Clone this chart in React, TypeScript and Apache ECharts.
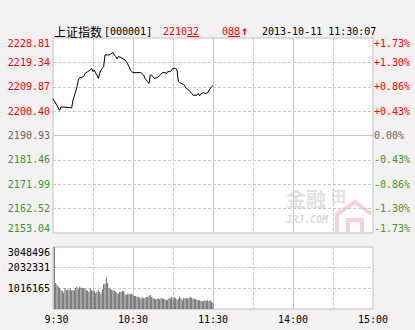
import React, { useEffect, useRef } from 'react';
import * as echarts from 'echarts';

const BASE = 2190.93;
const STEP = 9.47125;
const leftLabels = ['2153.04', '2162.52', '2171.99', '2181.46', '2190.93', '2200.40', '2209.87', '2219.34', '2228.81'];
const rightLabels = ['-1.73%', '-1.30%', '-0.86%', '-0.43%', '0.00%', '+0.43%', '+0.86%', '+1.30%', '+1.73%'];
const timeLabels = ['9:30', '', '10:30', '', '11:30', '', '14:00', '', '15:00'];
const volLabels = ['', '1016165', '2032331', '3048496'];
const VOL_MAX = 3048496;

const priceMinutes = [0, 5, 6, 13, 14, 15, 18, 19, 20, 23, 24, 26, 28, 29, 30, 31, 32, 33, 34, 35, 36, 38, 39, 42, 43, 45, 46, 47, 48, 49, 51, 54, 55, 57, 58, 60, 66, 68, 69, 71, 72, 73, 74, 75, 76, 78, 80, 82, 84, 85, 86, 88, 89, 90, 92, 93, 94, 95, 98, 99, 100, 102, 104, 105, 108, 109, 110, 111, 113, 114, 116, 117, 119, 120];
const prices = [2205.29, 2200.71, 2202.04, 2201.77, 2201.65, 2204.63, 2209.87, 2212.45, 2213.39, 2213.78, 2215.07, 2215.74, 2216.37, 2217.03, 2215.74, 2216.37, 2215.07, 2214.41, 2213.12, 2215.07, 2216.37, 2217.7, 2222.24, 2222.24, 2222.51, 2223.17, 2222.24, 2221.61, 2220.67, 2221.61, 2221.22, 2220.28, 2219.65, 2217.7, 2216.37, 2215.35, 2215.35, 2214.41, 2213.12, 2211.83, 2211.16, 2214.41, 2214.41, 2213.78, 2213.12, 2213.39, 2214.17, 2215.35, 2215.35, 2215.07, 2215.74, 2215.74, 2216.37, 2217.03, 2217.03, 2216.37, 2212.06, 2211.44, 2210.77, 2210.1, 2209.2, 2208.54, 2207.25, 2206.58, 2206.58, 2207.25, 2206.35, 2207.25, 2207.52, 2207.25, 2207.52, 2208.54, 2209.87, 2210.32];

// volume per minute, 9:31 .. 11:30
const volumes = [
  3048496, 1262000, 1180000, 1098000, 1016000, 918000, 885000, 803000, 1016000, 918000,
  967000, 918000, 1016000, 918000, 918000, 918000, 1049000, 1098000, 967000, 1082000,
  1049000, 1049000, 1016000, 1016000, 934000, 885000, 836000, 1016000, 918000, 918000,
  885000, 770000, 852000, 934000, 836000, 754000, 967000, 1213000, 1246000, 1541000,
  1295000, 1016000, 1000000, 934000, 918000, 885000, 852000, 787000, 754000, 836000,
  852000, 885000, 885000, 754000, 688000, 754000, 754000, 721000, 754000, 688000,
  639000, 639000, 606000, 606000, 557000, 508000, 590000, 524000, 557000, 590000,
  590000, 639000, 688000, 590000, 524000, 508000, 475000, 508000, 524000, 475000,
  524000, 524000, 492000, 475000, 426000, 459000, 524000, 524000, 590000, 475000,
  590000, 524000, 459000, 508000, 606000, 524000, 443000, 541000, 524000, 524000,
  524000, 524000, 606000, 557000, 508000, 508000, 475000, 459000, 426000, 426000,
  393000, 377000, 393000, 426000, 393000, 426000, 393000, 426000, 361000, 295000,
];

const MONO = '"DejaVu Sans Mono", "Liberation Mono", monospace';
const CJK = '"Noto Sans CJK SC", sans-serif';
const GRID_C = '#c8c8c8';
const RED = '#ff0000';
const GREEN = '#339933';
const GREY = '#666666';

const signColor = (v: any) => {
  const n = Number(v);
  return n > 0.001 ? RED : n < -0.001 ? GREEN : GREY;
};

export default function App() {
  const ref = useRef<HTMLDivElement>(null);
  useEffect(() => {
    if (!ref.current) return;
    const chart = echarts.init(ref.current, undefined, { renderer: 'svg' });
    const dashed = { show: true, lineStyle: { color: GRID_C, type: [3, 2] as any, width: 1 }, showMinLine: false, showMaxLine: false };
    const solidMark = (items: any[]) => ({
      silent: true,
      symbol: 'none',
      label: { show: false },
      animation: false,
      lineStyle: { color: GRID_C, type: 'solid', width: 1 },
      data: items,
    });
    const text = (x: number, y: number, t: string, fill: string, font: string, extra: any = {}) => ({
      type: 'text',
      x,
      y,
      silent: true,
      style: { text: t, fill, font, textAlign: 'left', textVerticalAlign: 'middle', align: 'left', verticalAlign: 'middle', ...extra },
    });
    chart.setOption({
      animation: false,
      backgroundColor: '#f3f1f1',
      grid: [
        { left: 53, top: 38, width: 320, height: 195, show: true, backgroundColor: '#ffffff', borderColor: '#c0c0c0', borderWidth: 1 },
        { left: 53, top: 247, width: 320, height: 62, show: true, backgroundColor: '#ffffff', borderColor: '#c0c0c0', borderWidth: 1 },
      ],
      xAxis: [
        {
          gridIndex: 0, type: 'value', min: 0, max: 240, interval: 30,
          axisLine: { show: false }, axisTick: { show: false }, axisLabel: { show: false },
          splitLine: dashed,
        },
        {
          gridIndex: 1, type: 'value', min: 0, max: 240, interval: 30,
          axisLine: { show: false }, axisTick: { show: false },
          splitLine: dashed,
          axisLabel: {
            show: true, margin: 5, fontFamily: MONO, fontSize: 10, color: '#000',
            showMinLabel: true, showMaxLabel: true,
            formatter: (v: number) => {
              const i = Math.round(v / 30);
              const t = timeLabels[i] || '';
              if (!t) return '';
              return i === 0 ? '{f|' + t + '}' : t;
            },
            rich: { f: { fontFamily: MONO, fontSize: 10, color: '#000', padding: [0, 0, 0, 7] } },
          },
        },
      ],
      yAxis: [
        {
          gridIndex: 0, type: 'value', position: 'left', min: -4, max: 4, interval: 1,
          axisLine: { show: false }, axisTick: { show: false },
          splitLine: dashed,
          axisLabel: {
            margin: 3, fontFamily: MONO, fontSize: 10,
            color: (v: any) => signColor(v),
            formatter: (v: number) => leftLabels[Math.round(v) + 4],
            verticalAlignMaxLabel: 'top', verticalAlignMinLabel: 'bottom',
          },
        },
        {
          gridIndex: 0, type: 'value', position: 'right', min: -4, max: 4, interval: 1,
          axisLine: { show: false }, axisTick: { show: false }, splitLine: { show: false },
          axisLabel: {
            margin: 1, fontFamily: MONO, fontSize: 10,
            color: (v: any) => signColor(v),
            formatter: (v: number) => rightLabels[Math.round(v) + 4],
            verticalAlignMaxLabel: 'top', verticalAlignMinLabel: 'bottom',
          },
        },
        {
          gridIndex: 1, type: 'value', position: 'left', min: 0, max: VOL_MAX, interval: VOL_MAX / 3,
          axisLine: { show: false }, axisTick: { show: false },
          splitLine: dashed,
          axisLabel: {
            margin: 3, fontFamily: MONO, fontSize: 10, color: '#000',
            formatter: (v: number) => volLabels[Math.round(v / (VOL_MAX / 3))] || '',
            verticalAlignMaxLabel: 'top',
          },
        },
      ],
      series: [
        {
          type: 'line', xAxisIndex: 0, yAxisIndex: 0, data: [[0, 0]], showSymbol: false, symbol: 'none',
          lineStyle: { opacity: 0 }, z: 1, silent: true,
          markLine: solidMark([{ xAxis: 60 }, { xAxis: 120 }, { xAxis: 180 }, { yAxis: 0 }]),
        },
        {
          type: 'line', xAxisIndex: 1, yAxisIndex: 2, data: [[0, 0]], showSymbol: false, symbol: 'none',
          lineStyle: { opacity: 0 }, z: 1, silent: true,
          markLine: solidMark([{ xAxis: 60 }, { xAxis: 120 }, { xAxis: 180 }]),
        },
        {
          type: 'line', xAxisIndex: 0, yAxisIndex: 0, z: 5,
          data: priceMinutes.map((m, i) => [m, (prices[i] - BASE) / STEP]),
          symbol: 'none', showSymbol: false,
          lineStyle: { color: '#000000', width: 1 },
        },
        {
          type: 'bar', xAxisIndex: 1, yAxisIndex: 2, z: 5,
          data: volumes.map((v, i) => [i + 1, v]),
          barWidth: 1,
          itemStyle: { color: '#666666' },
        },
      ],
      graphic: [
        text(54, 31, '上证指数', '#000', '12px ' + CJK),
        text(104, 31, '[000001]', '#000', '10px ' + MONO),
        text(163, 31, '2210', RED, '10px ' + MONO),
        text(187, 31, '32', RED, '10px ' + MONO),
        { type: 'line', silent: true, shape: { x1: 187, y1: 36.5, x2: 199, y2: 36.5 }, style: { stroke: RED, lineWidth: 1 } },
        text(222, 31, '0', RED, '10px ' + MONO),
        text(228, 31, '88', RED, '10px ' + MONO),
        { type: 'line', silent: true, shape: { x1: 228, y1: 36.5, x2: 240, y2: 36.5 }, style: { stroke: RED, lineWidth: 1 } },
        text(241, 31, '↑', RED, 'bold 12px ' + MONO),
        text(262, 31, '2013-10-11 11:30:07', '#000', '10px ' + MONO),
        // watermark
        text(286, 198, '金融', 'rgba(170,170,170,0.35)', 'bold 20px ' + CJK),
        text(331, 195, '田', 'rgba(170,170,170,0.35)', 'bold 15px ' + CJK),
        { type: 'polyline', silent: true, shape: { points: [[337, 232], [337, 214], [355, 202], [371, 214]] }, style: { stroke: 'rgba(235,130,130,0.35)', lineWidth: 4, fill: 'none' } },
        { type: 'polyline', silent: true, shape: { points: [[348, 232], [348, 220], [362, 220], [362, 232]] }, style: { stroke: 'rgba(235,130,130,0.35)', lineWidth: 4, fill: 'none' } },
        text(286, 219, 'JRJ.COM', 'rgba(170,170,170,0.45)', 'italic bold 10px ' + MONO),
      ],
    });
    return () => chart.dispose();
  }, []);
  return (
    <div
      ref={ref}
      style={{ position: 'absolute', left: 0, top: 0, width: 415, height: 330, background: '#f3f1f1' }}
    />
  );
}
